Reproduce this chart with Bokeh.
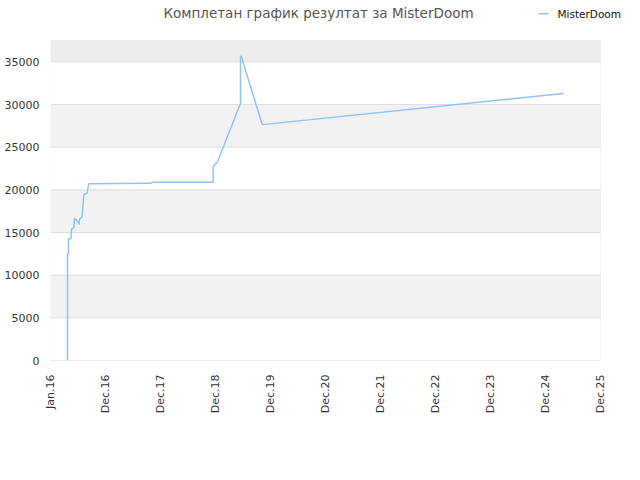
import math
from bokeh.plotting import figure
from bokeh.models import Range1d, FixedTicker, BoxAnnotation, Label
from bokeh.embed import file_html
from bokeh.resources import INLINE

# ---- data (x in tick-interval units: 0 = Jan.16, 1 = Dec.16, ... 10 = Dec.25) ----
tick_labels = ["Jan.16", "Dec.16", "Dec.17", "Dec.18", "Dec.19", "Dec.20",
               "Dec.21", "Dec.22", "Dec.23", "Dec.24", "Dec.25"]
x_vals = [0.309, 0.309, 0.327, 0.327, 0.373, 0.382, 0.427, 0.436, 0.473, 0.518,
          0.518, 0.527, 0.573, 0.591, 0.605, 0.664, 0.696, 1.818, 1.855, 2.958,
          2.958, 3.0, 3.031, 3.455, 3.455, 3.473, 3.849, 3.940, 9.322]
y_vals = [0, 12500, 12500, 14250, 14300, 15400, 15600, 16650, 16450, 16050,
          15900, 16550, 16850, 18200, 19450, 19600, 20700, 20760, 20880, 20880,
          22700, 23050, 23200, 30150, 35700, 35550, 27650, 27700, 31300]
series_name = "MisterDoom"
title_text = "Комплетан график резултат за MisterDoom"
y_ticks = [0, 5000, 10000, 15000, 20000, 25000, 30000, 35000]
x_min, x_max = 0, 10
y_min, y_max = 0, 37500

FONT = "DejaVu Sans"
LINE_COLOR = "#90c3f5"
GRID = "#dddddd"

# plot box: 550 x 320 px; frame extended to the right and upwards so the
# title and legend (drawn in screen units) are not clipped
BOX_W, BOX_H = 550, 320
FRAME_W, FRAME_H = 574, 360
x_hi = x_min + (x_max - x_min) * FRAME_W / BOX_W
y_hi = y_min + (y_max - y_min) * FRAME_H / BOX_H

p = figure(width=624, height=464, output_backend="svg", toolbar_location=None,
           x_range=Range1d(x_min, x_hi), y_range=Range1d(y_min, y_hi),
           min_border_left=50, min_border_right=0, min_border_top=0,
           min_border_bottom=104)
p.background_fill_color = "white"
p.border_fill_color = "white"
p.outline_line_color = None
p.xgrid.visible = False
p.ygrid.visible = False

# alternating bands
for b, t, c in [(5000, 10000, "#f2f2f2"), (15000, 20000, "#f2f2f2"),
                (25000, 30000, "#f2f2f2"), (35000, y_max, "#ececec")]:
    p.add_layout(BoxAnnotation(left=x_min, right=x_max, bottom=b, top=t,
                               fill_color=c, fill_alpha=1, line_alpha=0,
                               level="underlay"))
# horizontal grid lines at the y ticks
p.segment(x0=[x_min] * len(y_ticks), x1=[x_max] * len(y_ticks),
          y0=y_ticks, y1=y_ticks, line_color=GRID, line_width=1)
# plot-area border
p.add_layout(BoxAnnotation(left=x_min, right=x_max, bottom=y_min, top=y_max,
                           fill_alpha=0, line_color=GRID, line_width=1))

p.line(x_vals, y_vals, line_color=LINE_COLOR, line_width=1.5)

p.xaxis.ticker = FixedTicker(ticks=list(range(len(tick_labels))))
p.xaxis.major_label_overrides = {i: s for i, s in enumerate(tick_labels)}
p.xaxis.major_label_orientation = math.pi / 2
p.yaxis.ticker = FixedTicker(ticks=y_ticks)
p.yaxis.major_label_overrides = {v: str(v) for v in y_ticks}
for ax in (p.xaxis, p.yaxis):
    ax.axis_line_color = None
    ax.major_tick_line_color = None
    ax.minor_tick_line_color = None
    ax.major_label_text_font = FONT
    ax.major_label_text_font_size = "11px"
    ax.major_label_text_color = "#333333"
p.yaxis.major_label_standoff = 5
p.xaxis.major_label_standoff = 8

# title and legend (screen units, measured from the frame's bottom-left)
p.add_layout(Label(x=268, y=348, x_units="screen", y_units="screen",
                   text=title_text, text_font=FONT, text_font_size="13.5px",
                   text_color="#555555", text_align="center",
                   text_baseline="middle"))
p.add_layout(BoxAnnotation(left=488, right=498, bottom=346, top=347.5,
                           left_units="screen", right_units="screen",
                           bottom_units="screen", top_units="screen",
                           fill_color=LINE_COLOR, fill_alpha=1, line_alpha=0))
p.add_layout(Label(x=507, y=347, x_units="screen", y_units="screen",
                   text=series_name, text_font=FONT, text_font_size="10.5px",
                   text_color="#111111", text_align="left",
                   text_baseline="middle"))

open("out.html", "w").write(file_html(p, INLINE))
